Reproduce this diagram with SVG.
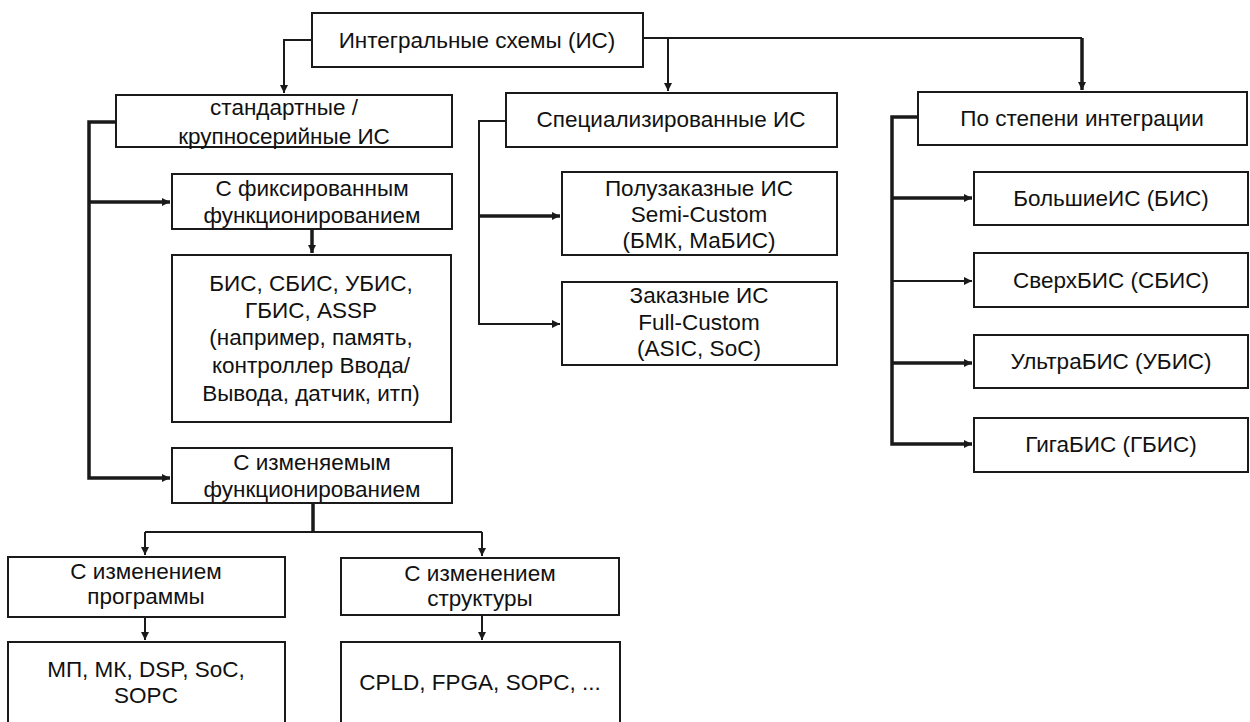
<svg xmlns="http://www.w3.org/2000/svg" width="1250" height="722" viewBox="0 0 1250 722">
  <defs>
    <marker id="arr" markerUnits="userSpaceOnUse" markerWidth="10" markerHeight="10" refX="8" refY="4" orient="auto">
      <path d="M0,0 L8,4 L0,8 z" fill="#1a1a1a"/>
    </marker>
    <style>
      .box { fill: #ffffff; stroke: #1a1a1a; stroke-width: 2; }
      .t { font-family: "Liberation Sans", Arial, sans-serif; font-size: 22.5px; fill: #111111; text-anchor: middle; }
      .c { fill: none; stroke: #1a1a1a; stroke-width: 2; }
      .ck { fill: none; stroke: #1a1a1a; stroke-width: 3.5; }
      .a { marker-end: url(#arr); }
    </style>
  </defs>
  <rect width="1250" height="722" fill="#ffffff"/>

  <g id="connectors">
    <path class="c a" d="M312,40 H284 V93"/>
    <path class="c" d="M643,38 H1082"/>
    <path class="c a" d="M668,38 V91"/>
    <path class="ck a" d="M1082,38 V90"/>
    <path class="ck a" d="M116,122 H89 V478 H170"/>
    <path class="ck a" d="M89,202 H170"/>
    <path class="ck a" d="M312,229 V253"/>
    <path class="c a" d="M506,121 H479 V324 H560"/>
    <path class="ck a" d="M479,216 H560"/>
    <path class="ck a" d="M918,117 H892 V444 H972"/>
    <path class="ck a" d="M892,198 H972"/>
    <path class="c a" d="M892,281 H972"/>
    <path class="ck a" d="M892,363 H972"/>
    <path class="ck" d="M313,503 V532"/>
    <path class="c" d="M145,532 H482"/>
    <path class="c a" d="M145,532 V555"/>
    <path class="c a" d="M482,532 V556"/>
    <path class="c a" d="M145,617 V640"/>
    <path class="c a" d="M482,615 V640"/>
  </g>

  <g id="n-root">
    <rect class="box" x="312" y="13" width="331" height="54"/>
    <text class="t" x="477" y="48">Интегральные схемы (ИС)</text>
  </g>
  <g id="n-standard">
    <rect class="box" x="116" y="95" width="336" height="52"/>
    <text class="t" x="284" y="115">стандартные /</text>
    <text class="t" x="284" y="144">крупносерийные ИС</text>
  </g>
  <g id="n-fixed">
    <rect class="box" x="172" y="174" width="280" height="55"/>
    <text class="t" x="312" y="196">С фиксированным</text>
    <text class="t" x="312" y="223">функционированием</text>
  </g>
  <g id="n-fixed-list">
    <rect class="box" x="172" y="255" width="279" height="167"/>
    <text class="t" x="311" y="291">БИС, СБИС, УБИС,</text>
    <text class="t" x="311" y="318">ГБИС, ASSP</text>
    <text class="t" x="311" y="345">(например, память,</text>
    <text class="t" x="311" y="373">контроллер Ввода/</text>
    <text class="t" x="311" y="401">Вывода, датчик, итп)</text>
  </g>
  <g id="n-variable">
    <rect class="box" x="172" y="448" width="280" height="55"/>
    <text class="t" x="312" y="470">С изменяемым</text>
    <text class="t" x="312" y="497">функционированием</text>
  </g>
  <g id="n-program">
    <rect class="box" x="8" y="557" width="277" height="60"/>
    <text class="t" x="146" y="579">С изменением</text>
    <text class="t" x="146" y="604">программы</text>
  </g>
  <g id="n-structure">
    <rect class="box" x="341" y="558" width="278" height="57"/>
    <text class="t" x="480" y="581">С изменением</text>
    <text class="t" x="480" y="606">структуры</text>
  </g>
  <g id="n-program-list">
    <rect class="box" x="8" y="642" width="277" height="90"/>
    <text class="t" x="146" y="677">МП, МК, DSP, SoC,</text>
    <text class="t" x="146" y="703">SOPC</text>
  </g>
  <g id="n-structure-list">
    <rect class="box" x="341" y="642" width="279" height="90"/>
    <text class="t" x="480" y="690">CPLD, FPGA, SOPC, ...</text>
  </g>
  <g id="n-special">
    <rect class="box" x="506" y="93" width="331" height="54"/>
    <text class="t" x="671" y="127">Специализированные ИС</text>
  </g>
  <g id="n-semi">
    <rect class="box" x="562" y="172" width="275" height="83"/>
    <text class="t" x="699" y="196">Полузаказные ИС</text>
    <text class="t" x="699" y="222">Semi-Custom</text>
    <text class="t" x="699" y="248">(БМК, МаБИС)</text>
  </g>
  <g id="n-full">
    <rect class="box" x="562" y="282" width="275" height="83"/>
    <text class="t" x="699" y="303">Заказные ИС</text>
    <text class="t" x="699" y="330">Full-Custom</text>
    <text class="t" x="699" y="356">(ASIC, SoC)</text>
  </g>
  <g id="n-integration">
    <rect class="box" x="918" y="92" width="329" height="53"/>
    <text class="t" x="1082" y="126">По степени интеграции</text>
  </g>
  <g id="n-bis">
    <rect class="box" x="974" y="172" width="274" height="53"/>
    <text class="t" x="1111" y="206">БольшиеИС (БИС)</text>
  </g>
  <g id="n-sbis">
    <rect class="box" x="974" y="253" width="274" height="54"/>
    <text class="t" x="1111" y="288">СверхБИС (СБИС)</text>
  </g>
  <g id="n-ubis">
    <rect class="box" x="974" y="335" width="274" height="53"/>
    <text class="t" x="1111" y="369">УльтраБИС (УБИС)</text>
  </g>
  <g id="n-gbis">
    <rect class="box" x="974" y="418" width="274" height="54"/>
    <text class="t" x="1111" y="452">ГигаБИС (ГБИС)</text>
  </g>
</svg>
